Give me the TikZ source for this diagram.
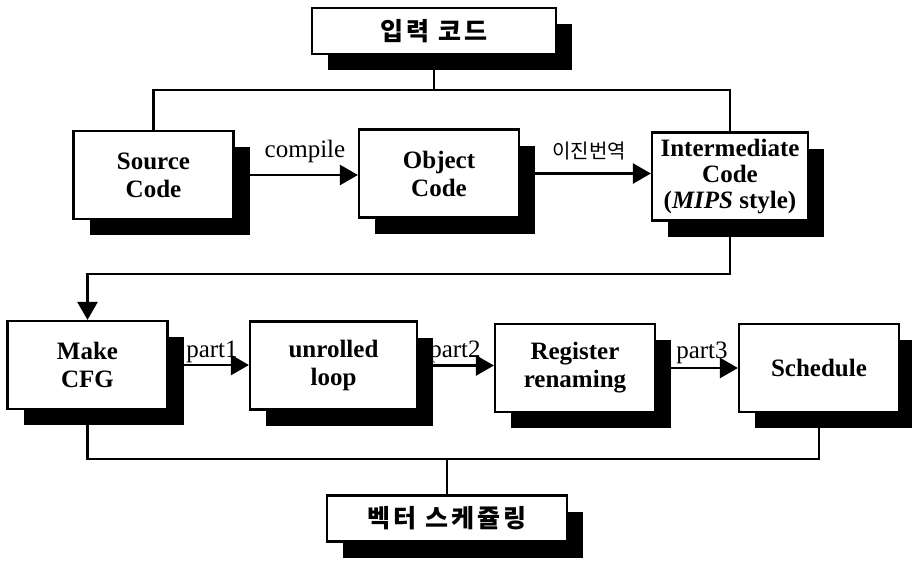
\documentclass[tikz,border=0pt]{standalone}
\usepackage{fontspec}
\setmainfont{Liberation Serif}
\newfontfamily\krfont{Noto Sans CJK KR}
\newfontfamily\krtitle{Noto Sans CJK KR}[LetterSpace=12]
\usetikzlibrary{arrows.meta,shadows}

\tikzset{
	stagebox/.style={draw, line width=1.1pt, fill=white, align=center,
		minimum width=80pt, minimum height=44pt, inner sep=2pt,
		font=\fontsize{12.5}{14}\selectfont\bfseries,
		drop shadow={shadow xshift=8pt, shadow yshift=-8pt, fill=black, opacity=1}},
	titlebox/.style={stagebox, minimum width=122pt, minimum height=23pt,
		font=\krtitle\bfseries\fontsize{12.5}{14}\selectfont},
	bus/.style={line width=1.3pt},
	flow/.style={bus, -{Triangle[length=9pt,width=10pt]}},
	steplabel/.style={font=\fontsize{12.5}{14}\selectfont, inner sep=1pt}
}

\begin{document}
\begin{tikzpicture}[x=0.5pt,y=-0.5pt]
	\useasboundingbox (0,0) rectangle (912,563);

	%boxes
	\node[titlebox] (in)  at (434,31)    {입력 코드};
	\node[stagebox] (src) at (153.5,175) {Source\\Code};
	\node[stagebox] (obj) at (439,173.5) {Object\\Code};
	\node[stagebox, inner sep=0pt, minimum width=78pt,
		font=\fontsize{12.5}{13}\selectfont\bfseries] (mid) at (730,176.5)
		{Intermediate\\Code\\(\textit{MIPS} style)};
	%
	\node[stagebox] (cfg) at (87.5,365)  {Make\\CFG};
	\node[stagebox, minimum width=83.5pt] (unr) at (333.5,365.5) {unrolled\\loop};
	\node[stagebox] (reg) at (575,368)   {Register\\renaming};
	\node[stagebox] (sch) at (819,368)   {Schedule};
	%
	\node[titlebox, minimum width=120pt] (out) at (447,518.5) {벡터 스케쥴링};

	%bus heights
	\coordinate (topbus) at (0,90);
	\coordinate (midbus) at (0,274);
	\coordinate (botbus) at (0,459);

	%lines
	\draw[bus] (in.south) -- (in.south |- topbus);				%top box down
	\draw[bus] (src.north) |- (mid.north |- topbus) -- (mid.north);	%top bus
	\draw[flow] (mid.south) -- (mid.south |- midbus) -| (cfg.north);	%back to row 2
	\draw[bus] (cfg.south) |- (sch.south |- botbus) -- (sch.south);	%bottom bus
	\draw[bus] (out.north) -- (out.north |- botbus);			%bottom box up

	%arrows
	\draw[flow] (src.east) -- (src.east -| obj.west);
	\draw[flow] (obj.east) -- (obj.east -| mid.west);
	\draw[flow] (cfg.east) -- (cfg.east -| unr.west);
	\draw[flow] (unr.east) -- (unr.east -| reg.west);
	\draw[flow] (reg.east) -- (reg.east -| sch.west);

	%arrow labels
	\node[steplabel] (lcomp) at (305,151) {compile};
	\node[steplabel, font=\krfont\fontsize{10}{12}\selectfont] (lbin) at (589,151) {이진번역};
	\node[steplabel] (lp1) at (212,352) {part1};
	\node[steplabel] (lp2) at (455,352) {part2};
	\node[steplabel] (lp3) at (702,353) {part3};
\end{tikzpicture}
\end{document}
